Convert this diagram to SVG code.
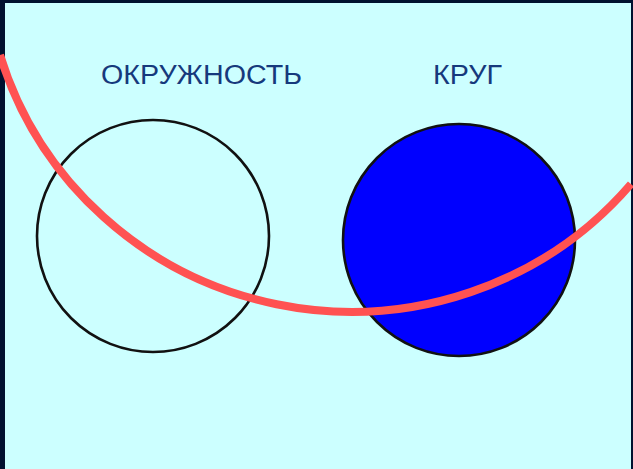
<svg xmlns="http://www.w3.org/2000/svg" width="633" height="469" viewBox="0 0 633 469">
  <style>
    .lbl { font-family: "Liberation Sans", Arial, sans-serif; font-size: 27px; fill: #16397c; }
    .ring { stroke: #111111; stroke-width: 2.6; }
  </style>
  <rect x="0" y="0" width="633" height="469" fill="#00112f"/>
  <rect x="5" y="3" width="626" height="466" fill="#ccffff"/>
  <g id="label-okruzhnost">
    <text class="lbl" x="101" y="84" textLength="201" lengthAdjust="spacingAndGlyphs">ОКРУЖНОСТЬ</text>
  </g>
  <g id="label-krug">
    <text class="lbl" x="433" y="84" textLength="69" lengthAdjust="spacingAndGlyphs">КРУГ</text>
  </g>
  <g id="circle-outline">
    <circle class="ring" cx="153" cy="236" r="116" fill="none"/>
  </g>
  <g id="circle-filled">
    <circle class="ring" cx="459" cy="240" r="116" fill="#0000ff"/>
  </g>
  <g id="connectors">
    <path d="M0,55 A367,362 0 0 0 631,184" fill="none" stroke="#ff5252" stroke-width="8"/>
  </g>
</svg>
